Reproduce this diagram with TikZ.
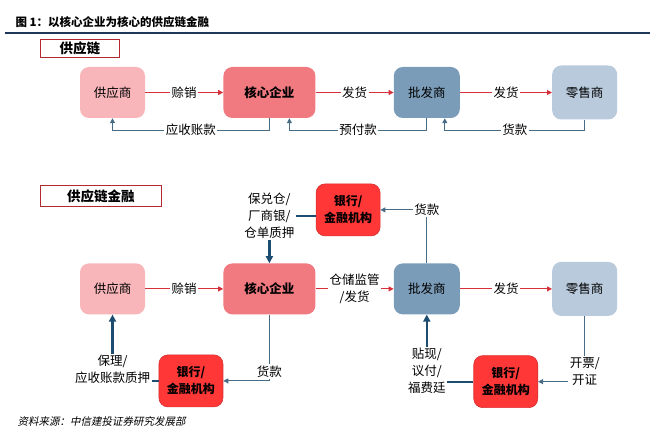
\documentclass[tikz,border=0pt]{standalone}
\usepackage{fontspec}
\usepackage{tikz}
\usetikzlibrary{positioning,calc,arrows.meta}
\setmainfont{Noto Sans CJK SC}
\newfontfamily\srcfont[FakeSlant=0.2]{Noto Sans CJK SC}

\definecolor{supfill}{RGB}{248,182,186}
\definecolor{corefill}{RGB}{240,122,128}
\definecolor{whofill}{RGB}{122,156,184}
\definecolor{retfill}{RGB}{184,202,220}
\definecolor{bankfill}{RGB}{255,55,55}
\definecolor{flowred}{RGB}{214,48,58}
\definecolor{paynavy}{RGB}{28,76,112}
\definecolor{payslate}{RGB}{72,108,134}
\definecolor{headred}{RGB}{180,40,50}
\definecolor{rulenavy}{RGB}{31,56,90}

\tikzset{
  firm/.style={rounded corners=9pt, minimum width=65pt, minimum height=51pt, inner sep=0pt, font=\fontsize{12.5}{15}\selectfont},
  supplier/.style={firm, fill=supfill},
  core/.style={firm, fill=corefill, minimum width=92pt, font=\fontsize{12.5}{15}\selectfont\bfseries},
  wholesale/.style={firm, fill=whofill, minimum width=66pt},
  retailer/.style={firm, fill=retfill, minimum height=54pt},
  bank/.style={firm, fill=bankfill, draw=bankfill!85!black, line width=.6pt, minimum width=64pt, minimum height=52pt, align=center, font=\fontsize{12}{17}\selectfont\bfseries},
  lbl/.style={fill=white, inner sep=1.5pt, align=center, font=\fontsize{12.5}{17}\selectfont},
  goods/.style={draw=flowred, line width=1pt, -{Triangle[length=5pt,width=5pt]}},
  money/.style={draw=payslate, line width=1pt, -{Triangle[length=5pt,width=5pt]}},
  fin/.style={draw=paynavy, line width=2.2pt, -{Triangle[length=7pt,width=7pt]}},
  heading/.style={draw=headred, line width=.8pt, inner sep=0pt, anchor=north west, font=\fontsize{13.5}{16}\selectfont\bfseries}
}

\begin{document}
\begin{tikzpicture}
  \useasboundingbox (0,0) rectangle (654pt,-430pt);

  % title and rule
  \node[anchor=west, font=\fontsize{11.5}{14}\selectfont\bfseries] (title) at (12pt,-22pt) {图 1：以核心企业为核心的供应链金融};
  \draw[rulenavy, line width=1.8pt] (5pt,-33pt) -- (650pt,-33pt);

  % supply chain
  \node[heading, minimum width=79pt, minimum height=18pt] (chain) at (40pt,-39pt) {供应链};
  \node[supplier] (sup1) at (112.5pt,-92.5pt) {供应商};
  \node[core, right=78pt of sup1] (core1) {核心企业};
  \node[wholesale, right=78pt of core1] (who1) {批发商};
  \node[retailer, right=92pt of who1] (ret1) {零售商};

  \draw[goods] (sup1) -- node[lbl] (credit1) {赊销} (core1);
  \draw[goods] (core1) -- node[lbl] (ship1) {发货} (who1);
  \draw[goods] (who1) -- node[lbl] (ship2) {发货} (ret1);

  \draw[money] (core1.south) |- node[lbl, pos=.75] (recv1) {应收账款} ([yshift=-12pt]sup1.south) -- (sup1.south);
  \draw[money] (who1.south) |- node[lbl, pos=.75] (prepay1) {预付款} ([xshift=20pt,yshift=-12pt]core1.south) -- ([xshift=20pt]core1.south);
  \draw[money] (ret1.south) |- node[lbl, pos=.75] (pay1) {货款} ([xshift=18pt,yshift=-12pt]who1.south) -- ([xshift=18pt]who1.south);

  % supply chain finance
  \node[heading, minimum width=121pt, minimum height=21pt] (finance) at (40pt,-185pt) {供应链金融};
  \node[supplier, below=145pt of sup1] (sup2) {供应商};
  \node[core, right=78pt of sup2] (core2) {核心企业};
  \node[wholesale, right=78pt of core2] (who2) {批发商};
  \node[retailer, right=92pt of who2] (ret2) {零售商};

  \node[bank, above=27pt of $(core2.north)!.5!(who2.north)$] (bank1) {银行/\\金融机构};
  \node[bank, below=40pt of $(sup2.south)!.5!(core2.south)$] (bank2) {银行/\\金融机构};
  \node[bank, below=40pt of $(who2.south)!.5!(ret2.south)$] (bank3) {银行/\\金融机构};

  \draw[goods] (sup2) -- node[lbl] (credit2) {赊销} (core2);
  \draw[goods] (core2) -- node[lbl] (store) {仓储监管\\/发货} (who2);
  \draw[goods] (who2) -- node[lbl] (ship3) {发货} (ret2);

  \node[lbl, above=23pt of core2] (pledge) {保兑仓/\\厂商银/\\仓单质押};
  \node[lbl, below=39pt of sup2] (factor) {保理/\\应收账款质押};
  \node[lbl, below=32pt of who2] (disc) {贴现/\\议付/\\福费廷};

  \draw[fin] (pledge) -- (core2);
  \draw[fin, -] (pledge.east) -- (pledge.east -| bank1.west);
  \draw[fin] (factor) -- (sup2);
  \draw[fin, -] (bank2.west -| factor.east) -- (bank2.west);
  \draw[fin] (disc) -- (who2);
  \draw[fin, -] (bank3.west -| disc.east) -- (bank3.west);

  \draw[money] (who2.north) -- node[lbl, pos=1] (pay2) {货款} (who2.north |- bank1.east) -- (bank1.east);
  \draw[money] (core2.south) -- node[lbl, pos=.86] (pay3) {货款} (core2.south |- bank2.east) -- (bank2.east);
  \draw[money] (ret2.south) -- node[lbl, pos=.85] (bill) {开票/\\开证} (ret2.south |- bank3.east) -- (bank3.east);

  % source
  \node[anchor=west, font=\srcfont\fontsize{10.5}{13}\selectfont] (src) at (14pt,-421pt) {资料来源：中信建投证券研究发展部};
\end{tikzpicture}
\end{document}
